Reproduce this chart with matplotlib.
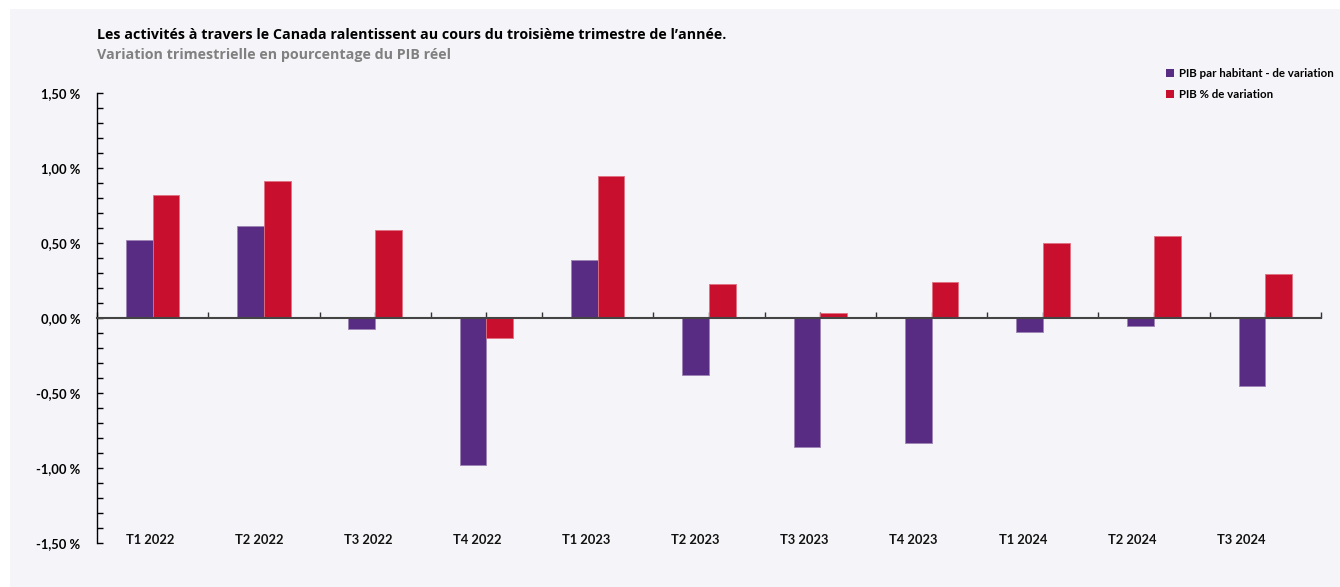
import numpy as np
import matplotlib.pyplot as plt
from matplotlib.patches import Rectangle
from matplotlib.ticker import MultipleLocator, FuncFormatter

# data
trimestres = ['T1 2022', 'T2 2022', 'T3 2022', 'T4 2022', 'T1 2023', 'T2 2023',
              'T3 2023', 'T4 2023', 'T1 2024', 'T2 2024', 'T3 2024']
pib_habitant = [0.52, 0.615, -0.075, -0.98, 0.385, -0.38, -0.86, -0.83, -0.095, -0.05, -0.45]
pib_variation = [0.82, 0.915, 0.585, -0.13, 0.95, 0.227, 0.036, 0.24, 0.50, 0.545, 0.295]

violet = '#582C83'
rouge = '#C8102E'
fond = '#F5F5F9'

plt.rcParams['font.family'] = ['Lato', 'DejaVu Sans']

fig = plt.figure(figsize=(13.4, 5.87), dpi=100, facecolor='white')
# light panel behind everything
fig.patches.append(Rectangle((10 / 1340, 0), 1 - 10 / 1340, 1 - 9 / 587,
                             transform=fig.transFigure, facecolor=fond,
                             edgecolor='none', zorder=-10))

ax = fig.add_axes([97 / 1340, 44 / 587, 1224 / 1340, 450 / 587])
ax.set_facecolor('none')

x = np.arange(len(trimestres))
w = 0.24
ax.bar(x - w / 2, pib_habitant, w, color=violet, edgecolor='#9c83b5', linewidth=0.6,
       label='PIB par habitant - de variation', zorder=2)
ax.bar(x + w / 2, pib_variation, w, color=rouge, edgecolor='#e07080', linewidth=0.6,
       label='PIB % de variation', zorder=2)

ax.set_xlim(-0.5, len(trimestres) - 0.5)
ax.set_ylim(-1.5, 1.5)

for s in ['top', 'right']:
    ax.spines[s].set_visible(False)
ax.spines['left'].set_color('black')
ax.spines['left'].set_linewidth(1.0)
ax.spines['bottom'].set_position(('data', 0))
ax.spines['bottom'].set_color('#444444')
ax.spines['bottom'].set_linewidth(1.5)
ax.spines['bottom'].set_zorder(3)

ax.yaxis.set_major_locator(MultipleLocator(0.5))
ax.yaxis.set_minor_locator(MultipleLocator(0.1))
ax.yaxis.set_major_formatter(FuncFormatter(lambda v, p: f'{v:.2f} %'.replace('.', ',')))
ax.tick_params(axis='y', which='both', direction='in', length=4, width=1, color='black',
               labelsize=9.3, pad=12)
for t in ax.get_yticklabels():
    t.set_fontweight('bold')

ax.set_xticks(np.arange(len(trimestres) + 1) - 0.5)
ax.set_xticks(x, minor=True)
ax.tick_params(axis='x', which='both', direction='in', length=4, width=1, color='#333333',
               labelbottom=False)

for xi, lab in zip(x, trimestres):
    ax.text(xi * 0.98 - 0.02, -1.48, lab, ha='center', va='center', fontsize=9.3,
            fontweight='bold', color='#111111')

fig.text(97 / 1340, 1 - 35 / 587, "Les activités à travers le Canada ralentissent au cours du troisième trimestre de l’année.",
         fontsize=10.3, fontweight='bold', color='black', va='center', family=['Open Sans', 'DejaVu Sans'])
fig.text(97 / 1340, 1 - 55 / 587, "Variation trimestrielle en pourcentage du PIB réel",
         fontsize=10.3, fontweight='bold', color='#808080', va='center', family=['Open Sans', 'DejaVu Sans'])

leg = fig.legend(loc='upper left', bbox_to_anchor=(1166 / 1340, 1 - 68 / 587), frameon=False,
                 fontsize=8.3, handlelength=0.7, handleheight=0.7, handletextpad=0.4,
                 labelspacing=0.85, borderpad=0, borderaxespad=0)
for t in leg.get_texts():
    t.set_fontweight('bold')
for h in leg.legend_handles:
    h.set_linewidth(0)

fig.savefig('out.png', dpi=100, facecolor='white')
